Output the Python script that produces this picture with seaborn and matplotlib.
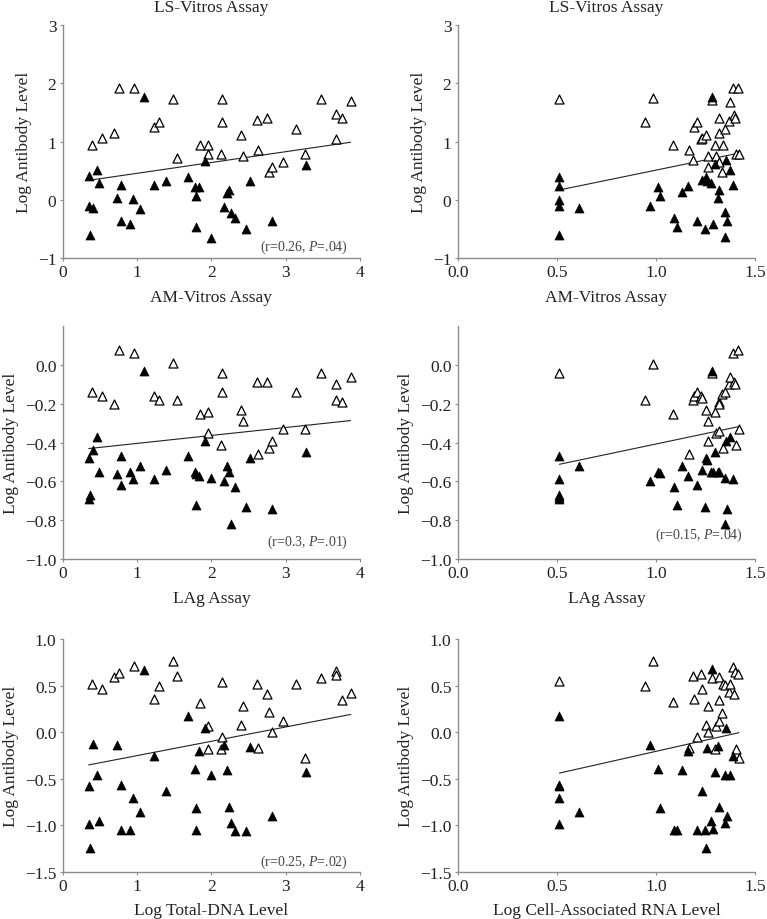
import numpy as np
import pandas as pd
import matplotlib
matplotlib.use("Agg")
import matplotlib.pyplot as plt
import seaborn as sns

# x positions are the same subjects in every row of a column
left_open_x = [0.39, 0.53, 0.69, 0.76, 0.96, 1.23, 1.30, 1.48, 1.54, 1.85, 1.96, 1.96, 2.13, 2.14, 2.14,
               2.40, 2.43, 2.61, 2.63, 2.74, 2.77, 2.82, 2.96, 3.14, 3.26, 3.47, 3.67, 3.67, 3.76, 3.87]
left_filled_x = [0.35, 0.36, 0.37, 0.41, 0.46, 0.49, 0.73, 0.78, 0.79, 0.91, 0.94, 1.04, 1.09, 1.23, 1.39, 1.69,
                 1.78, 1.79, 1.79, 1.83, 1.91, 2.00, 2.17, 2.21, 2.24, 2.26, 2.32, 2.46, 2.52, 2.82, 3.27]
right_open_x = [0.513, 0.943, 0.985, 1.083, 1.168, 1.185, 1.190, 1.204, 1.226, 1.234, 1.254, 1.263, 1.263, 1.283,
                1.298, 1.301, 1.315, 1.315, 1.315, 1.337, 1.333, 1.348, 1.370, 1.374, 1.387, 1.394, 1.397, 1.401,
                1.414, 1.418]
right_filled_x = [0.513, 0.513, 0.513, 0.513, 0.513, 0.611, 0.968, 1.010, 1.022, 1.089, 1.103, 1.133, 1.160, 1.205,
                  1.234, 1.249, 1.254, 1.259, 1.276, 1.283, 1.288, 1.298, 1.310, 1.318, 1.348, 1.354, 1.348, 1.360,
                  1.374, 1.389]

# Log antibody level, row 1 (LS-Vitros vs AM-Vitros)
am_left_open_y = [0.94, 1.07, 1.15, 1.92, 1.92, 1.25, 1.33, 1.74, 0.71, 0.95, 0.95, 0.78, 0.78, 1.73, 1.34,
                  1.11, 0.75, 1.37, 0.85, 1.41, 0.48, 0.56, 0.65, 1.21, 0.79, 1.73, 1.47, 1.04, 1.41, 1.69]
am_left_filled_y = [0.41, -0.10, -0.61, -0.14, 0.52, 0.29, 0.03, 0.25, -0.36, -0.42, 0.01, -0.16, 1.76, 0.25, 0.33,
                    0.40, 0.22, 0.06, -0.47, 0.22, 0.67, -0.65, -0.13, 0.12, 0.16, -0.23, -0.32, -0.50, 0.33, -0.36,
                    0.59]
am_right_open_y = [1.74, 1.34, 1.75, 0.95, 0.85, 0.69, 1.25, 1.34, 1.04, 1.06, 1.11, 0.76, 0.56, 1.72, 0.95,
                   0.76, 0.65, 1.15, 1.41, 0.95, 0.48, 1.21, 1.35, 1.68, 1.92, 1.46, 1.41, 0.79, 1.92, 0.79]
am_right_filled_y = [0.40, 0.24, 0.00, -0.10, -0.61, -0.14, -0.11, 0.22, 0.06, -0.32, -0.47, 0.13, 0.23, -0.36,
                     0.34, -0.50, 0.40, 0.33, 0.29, 1.76, -0.42, 0.61, 0.03, 0.17, -0.21, 0.69, -0.64, -0.36,
                     0.52, 0.25]

# row 2 (LAg)
lag_left_open_y = [-0.14, -0.16, -0.20, 0.08, 0.06, -0.16, -0.18, 0.01, -0.18, -0.25, -0.24, -0.35, -0.41, -0.04,
                   -0.14, -0.23, -0.29, -0.09, -0.46, -0.09, -0.43, -0.39, -0.33, -0.14, -0.33, -0.04, -0.10, -0.18,
                   -0.19, -0.06]
lag_left_filled_y = [-0.48, -0.69, -0.67, -0.44, -0.37, -0.55, -0.56, -0.47, -0.62, -0.55, -0.59, -0.52, -0.03,
                     -0.59, -0.54, -0.47, -0.55, -0.56, -0.72, -0.57, -0.39, -0.58, -0.60, -0.52, -0.55, -0.82,
                     -0.63, -0.73, -0.48, -0.74, -0.45]
lag_right_open_y = [-0.04, -0.18, 0.005, -0.25, -0.46, -0.18, -0.16, -0.14, -0.16, -0.17, -0.23, -0.39, -0.29,
                    -0.04, -0.24, -0.35, -0.34, -0.19, -0.20, -0.43, -0.15, -0.14, -0.10, -0.06, 0.06, -0.09,
                    -0.10, -0.41, 0.08, -0.33]
lag_right_filled_y = [-0.47, -0.59, -0.67, -0.68, -0.69, -0.52, -0.60, -0.55, -0.555, -0.63, -0.72, -0.52, -0.57,
                      -0.62, -0.54, -0.73, -0.48, -0.49, -0.55, -0.03, -0.55, -0.45, -0.55, -0.55, -0.58, -0.39,
                      -0.82, -0.74, -0.37, -0.59]

# row 3 (total DNA / cell-associated RNA)
dna_open_y = [0.52, 0.46, 0.59, 0.63, 0.71, 0.36, 0.49, 0.76, 0.60, 0.31, -0.18, 0.06, -0.18, 0.54, -0.05,
              0.08, 0.28, 0.52, -0.17, 0.41, 0.22, 0.00, 0.12, 0.52, -0.28, 0.58, 0.66, 0.61, 0.34, 0.42]
dna_filled_y = [-0.58, -0.99, -1.25, -0.13, -0.46, -0.96, -0.14, -0.57, -1.05, -1.05, -0.71, -0.86, 0.67, -0.26,
                -0.63, 0.17, -0.40, -0.82, -1.05, -0.20, 0.04, -0.46, -0.14, -0.41, -0.81, -0.98, -1.06, -1.06,
                -0.16, -0.90, -0.43]
rna_open_y = [0.55, 0.49, 0.76, 0.32, -0.17, 0.60, 0.36, -0.05, 0.62, 0.46, 0.08, 0.00, 0.28, 0.58, -0.18,
              0.06, 0.59, 0.12, 0.34, 0.52, 0.21, 0.51, 0.43, 0.52, 0.70, 0.41, 0.65, -0.18, 0.62, -0.28]
rna_filled_y = [0.17, -0.57, -0.58, -0.71, -0.99, -0.86, -0.14, -0.40, -0.82, -1.05, -1.05, -0.41, -0.20, -1.05,
                -0.63, -1.05, -1.25, -0.17, -0.96, 0.68, -1.04, -0.43, -0.15, -0.81, -0.98, 0.04, -0.46, -0.90,
                -0.46, -0.26]

# regression line (slope, intercept)
fit_slope = [0.186, 0.70, 0.041, 0.215, 0.154, 0.48]
fit_intercept = [0.269, -0.19, -0.445, -0.622, -0.407, -0.687]

stats_text = ["(r=0.26, $\\it{P}$=.04)", None, "(r=0.3, $\\it{P}$=.01)", "(r=0.15, $\\it{P}$=.04)",
              "(r=0.25, $\\it{P}$=.02)", None]
stats_y = [0.05, None, 0.075, 0.105, 0.045, None]

x_labels = ["AM-Vitros Assay", "AM-Vitros Assay", "LAg Assay", "LAg Assay",
            "Log Total-DNA Level", "Log Cell-Associated RNA Level"]

sns.set_style("white")
plt.rcParams["font.family"] = ["Liberation Serif", "DejaVu Serif"]
plt.rcParams["mathtext.fontset"] = "custom"
plt.rcParams["mathtext.it"] = "Liberation Serif:italic"
plt.rcParams["mathtext.rm"] = "Liberation Serif"

fig = plt.figure(figsize=(7.67, 9.2), dpi=100)

col_left = [0.0817, 0.5967]
col_w = 0.388
row_bottom = [0.7185, 0.3913, 0.0514]
row_h = 0.2530

panels = [
    (left_open_x, am_left_open_y, left_filled_x, am_left_filled_y),
    (right_open_x, am_right_open_y, right_filled_x, am_right_filled_y),
    (left_open_x, lag_left_open_y, left_filled_x, lag_left_filled_y),
    (right_open_x, lag_right_open_y, right_filled_x, lag_right_filled_y),
    (left_open_x, dna_open_y, left_filled_x, dna_filled_y),
    (right_open_x, rna_open_y, right_filled_x, rna_filled_y),
]

ylims = [(-1, 3), (-1.0, 0.2), (-1.5, 1.0)]
yticks = [[-1, 0, 1, 2, 3], [-1.0, -0.8, -0.6, -0.4, -0.2, 0.0], [-1.5, -1.0, -0.5, 0.0, 0.5, 1.0]]
yfmt = ["{:.0f}", "{:.1f}", "{:.1f}"]

grey = "#8c8c8c"

for i, (ox, oy, fx, fy) in enumerate(panels):
    row, col = divmod(i, 2)
    ax = fig.add_axes([col_left[col], row_bottom[row], col_w, row_h])

    open_df = pd.DataFrame({"x": ox, "y": oy})
    filled_df = pd.DataFrame({"x": fx, "y": fy})
    sns.scatterplot(data=open_df, x="x", y="y", marker="^", s=42, color="white",
                    edgecolor="black", linewidth=0.9, ax=ax, zorder=3)
    sns.scatterplot(data=filled_df, x="x", y="y", marker="^", s=42, color="black",
                    edgecolor="black", linewidth=0.5, ax=ax, zorder=4)

    all_x = np.array(ox + fx)
    line_x = np.array([all_x.min(), all_x.max()])
    line_df = pd.DataFrame({"x": line_x, "y": fit_intercept[i] + fit_slope[i] * line_x})
    sns.lineplot(data=line_df, x="x", y="y", color="#222222", linewidth=0.8, ax=ax, zorder=2)

    if col == 0:
        ax.set_xlim(0, 4)
        ax.set_xticks([0, 1, 2, 3, 4])
        ax.set_xticklabels([str(v) for v in range(5)])
    else:
        ax.set_xlim(0, 1.5)
        ax.set_xticks([0, 0.5, 1.0, 1.5])
        ax.set_xticklabels(["0.0", "0.5", "1.0", "1.5"])

    ax.set_ylim(*ylims[row])
    ax.set_yticks(yticks[row])
    ax.set_yticklabels([yfmt[row].format(v).replace("-", "\u2212") for v in yticks[row]])

    for side in ["top", "right"]:
        ax.spines[side].set_visible(False)
    for side in ["left", "bottom"]:
        ax.spines[side].set_color(grey)
        ax.spines[side].set_linewidth(1.0)
    ax.tick_params(axis="both", direction="out", length=2.5, width=0.8, color=grey,
                   labelsize=12.5, labelcolor="#222222", pad=2, left=True, bottom=True)

    ax.set_xlabel(x_labels[i], fontsize=12.5, color="#222222", labelpad=6)
    ax.set_ylabel("Log Antibody Level", fontsize=12.5, color="#222222", labelpad=4)
    if row == 0:
        ax.set_title("LS-Vitros Assay", fontsize=12.5, color="#222222", pad=10)

    if stats_text[i]:
        ax.text(0.96, stats_y[i], stats_text[i], transform=ax.transAxes, ha="right", va="center",
                fontsize=10, color="#444444")

fig.savefig("out.png", dpi=100)
